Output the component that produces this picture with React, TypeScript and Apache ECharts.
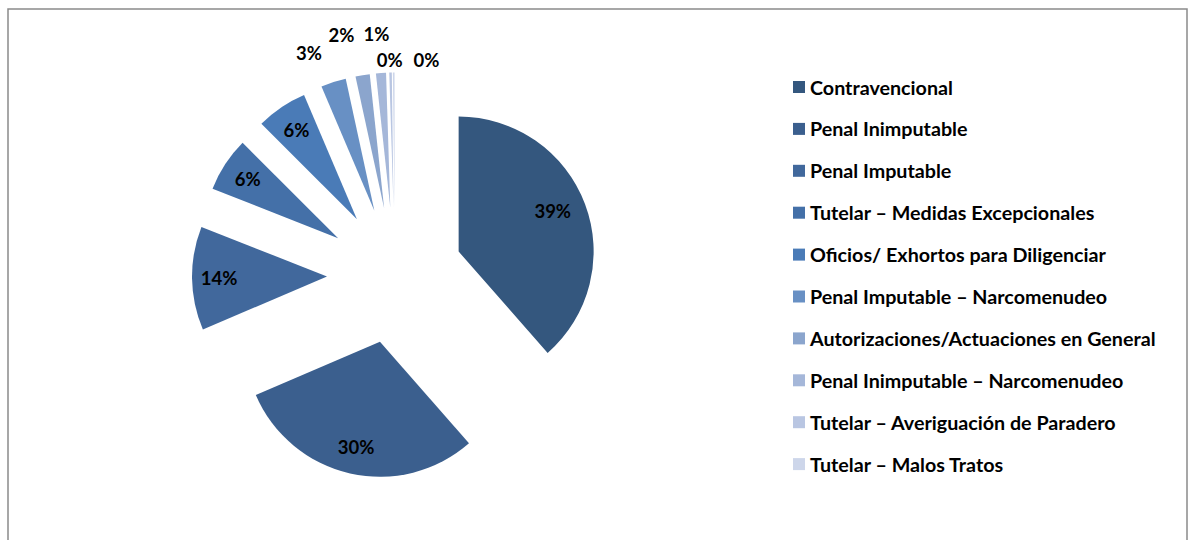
import React, { useEffect, useRef } from 'react';
import * as echarts from 'echarts';

const categories = [
  'Contravencional',
  'Penal Inimputable',
  'Penal Imputable',
  'Tutelar – Medidas Excepcionales',
  'Oficios/ Exhortos para Diligenciar',
  'Penal Imputable – Narcomenudeo',
  'Autorizaciones/Actuaciones en General',
  'Penal Inimputable – Narcomenudeo',
  'Tutelar – Averiguación de Paradero',
  'Tutelar – Malos Tratos',
];
const shares = [38.5, 30.0, 12.4, 6.5, 6.1, 3.0, 1.7, 1.2, 0.3, 0.2];
const labelTexts = ['39%', '30%', '14%', '6%', '6%', '3%', '2%', '1%', '0%', '0%'];
const colors = [
  '#34577E', '#3B5F8E', '#41689C', '#4470A8', '#4A7BB7',
  '#6890C4', '#8BA5CD', '#A5B7D9', '#B9C6E2', '#CDD6EA',
];
const insideCount = 5;

export default function App() {
  const ref = useRef<HTMLDivElement>(null);
  useEffect(() => {
    if (!ref.current) return;
    const chart = echarts.init(ref.current, undefined, { renderer: 'svg' });
    const font = 'Lato, "Noto Sans", sans-serif';
    const center = [395, 275.5];
    const radius = 135;
    const explode = 68;
    const labelNudges: Record<number, [number, number]> = {
      0: [-7, -2],
      5: [-13, 7],
      6: [-15, -3],
      7: [-2, -1],
      8: [0, 25],
      9: [33, 25],
    };
    const labelStyle = {
      color: '#000',
      fontFamily: font,
      fontWeight: 'bold' as const,
      fontSize: 18.5,
    };
    const overlay = (inner: number, outer: number, showFn: (i: number) => boolean, id: string) => ({
      type: 'pie',
      id,
      center,
      radius: [inner, outer],
      silent: true,
      selectedMode: 'multiple',
      selectedOffset: explode,
      avoidLabelOverlap: false,
      emphasis: { disabled: true },
      select: { itemStyle: { color: 'rgba(0,0,0,0)', borderWidth: 0 } },
      itemStyle: { color: 'rgba(0,0,0,0)', borderWidth: 0 },
      labelLine: { show: false },
      labelLayout: (p: any) => {
        const n = labelNudges[p.dataIndex];
        return n ? { dx: n[0], dy: n[1] } : {};
      },
      data: shares.map((v, i) => ({
        name: `${id}-${i}`,
        value: v,
        selected: true,
        label: {
          show: showFn(i),
          position: 'inside',
          formatter: () => labelTexts[i],
          ...labelStyle,
        },
      })),
    });
    chart.setOption({
      animation: false,
      backgroundColor: '#fff',
      graphic: [
        {
          type: 'rect',
          z: -1,
          silent: true,
          shape: { x: 8, y: 9, width: 1179, height: 600 },
          style: { fill: '#fff', stroke: '#8a8a8a', lineWidth: 1.5 },
        },
      ],
      legend: {
        orient: 'vertical',
        left: 793,
        top: 77,
        padding: 0,
        itemWidth: 12,
        itemHeight: 12,
        itemGap: 21.9,
        icon: 'rect',
        selectedMode: false,
        data: categories,
        textStyle: { ...labelStyle, fontSize: 19.7, lineHeight: 20 },
      },
      series: [
        {
          type: 'pie',
          id: 'main',
          center,
          radius: [0, radius],
          selectedMode: 'multiple',
          selectedOffset: explode,
          avoidLabelOverlap: false,
          emphasis: { disabled: true },
          label: { show: false },
          labelLine: { show: false },
          itemStyle: { borderWidth: 0 },
          data: categories.map((name, i) => ({
            name,
            value: shares[i],
            selected: true,
            itemStyle: { color: colors[i], borderWidth: 0 },
            select: { itemStyle: { color: colors[i], borderWidth: 0 } },
          })),
        },
        overlay(75, 135, (i) => i < insideCount, 'lblIn'),
        overlay(140, 200, (i) => i >= insideCount, 'lblOut'),
      ],
    } as any);
    return () => chart.dispose();
  }, []);
  return (
    <div
      ref={ref}
      style={{ position: 'absolute', left: 0, top: 0, width: 1191, height: 540 }}
    />
  );
}
